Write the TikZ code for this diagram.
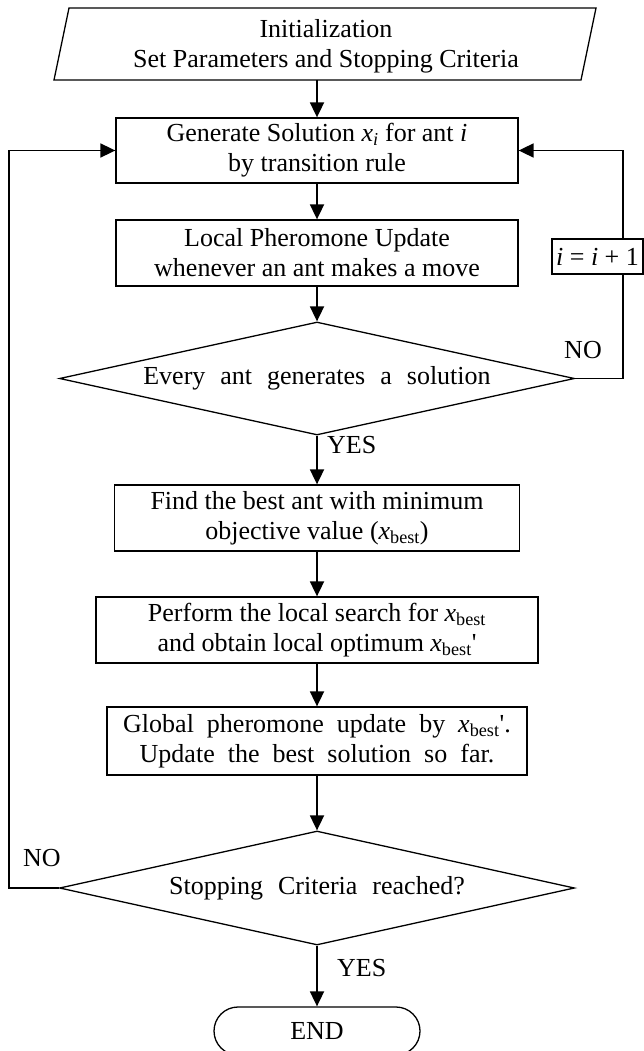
\documentclass[tikz,border=0pt]{standalone}
\usepackage{fontspec}
\setmainfont{Liberation Serif}
\usetikzlibrary{arrows.meta,calc,shapes.geometric}
\newcommand\wsp{\hspace{15pt}}
\newcommand\wsq{\hspace{13pt}}
\newcommand\xbest{\textit{x}\textsubscript{best}}
\begin{document}
\begin{tikzpicture}[x=1pt,y=-1pt,
  every node/.style={font=\fontsize{26}{30}\selectfont, inner sep=0pt},
  proc/.style={draw, line width=1.3pt, align=center},
  dec/.style={draw, line width=1.3pt, shape=diamond, aspect=4.5, align=center},
  conn/.style={line width=1.8pt},
  arr/.style={conn, -{Triangle[length=15pt,width=14pt]}}
]
\useasboundingbox (0,0) rectangle (644,1051);

% initialization parallelogram
\coordinate (p1) at (69,8);
\coordinate (p2) at (596,8);
\coordinate (p3) at (581,80);
\coordinate (p4) at (54,80);
\draw[line width=1.3pt] (p1) -- (p2) -- (p3) -- (p4) -- cycle;
\coordinate (pb) at (317,80);
\node[align=center] (init) at (326,46) {Initialization\\Set Parameters and Stopping Criteria};

\node[proc, minimum width=402pt, minimum height=65pt] (b1) at (317,150.5)
  {Generate Solution \textit{x}\textsubscript{\textit{i}} for ant \textit{i}\\by transition rule};
\node[proc, minimum width=402pt, minimum height=66pt] (b2) at (317,253)
  {Local Pheromone Update\\whenever an ant makes a move};
\node[dec, minimum width=515pt, minimum height=113pt] (d1) at (317,378.5)
  {\raisebox{5pt}{Every\wsp ant\wsp generates\wsp a\wsp solution}};
\node[proc, minimum width=405pt, minimum height=66pt] (b3) at (317,518)
  {Find the best ant with minimum\\objective value (\xbest)};
\node[proc, minimum width=442pt, minimum height=66pt] (b4) at (317,630)
  {Perform the local search for \xbest\\and obtain local optimum \xbest\textquotesingle};
\node[proc, minimum width=420pt, minimum height=68pt] (b5) at (317,741)
  {Global\wsq pheromone\wsq update\wsq by\wsq \xbest\textquotesingle.\\Update\wsq the\wsq best\wsq solution\wsq so\wsq far.};
\node[dec, minimum width=515pt, minimum height=114pt] (d2) at (317,888)
  {\raisebox{6pt}{Stopping\wsp Criteria\wsp reached?}};
\node[draw, line width=1.3pt, rounded corners=24pt, minimum width=206pt, minimum height=48pt] (end) at (317,1031) {END};
\node[proc, minimum width=91pt, minimum height=35pt] (inc) at (597.5,256.5)
  {\textit{i} = \textit{i} + 1};

% labels
\node[anchor=west] (yes1) at (327,445) {YES};
\node[anchor=west] (yes2) at (337,968) {YES};
\node (no1) at (583,350) {NO};
\node (no2) at (42,858) {NO};

% main flow
\draw[arr] (pb) -- (b1.north);
\draw[arr] (b1.south) -- (b2.north);
\draw[arr] (b2.south) -- (d1.north);
\draw[arr] (d1.south) -- (b3.north);
\draw[arr] (b3.south) -- (b4.north);
\draw[arr] (b4.south) -- (b5.north);
\draw[arr] (b5.south) -- (d2.north);
\draw[arr] (d2.south) -- (end.north);

% loops
\coordinate (lx) at (9,888);
\coordinate (rx) at (623,0);
\draw[arr] (d2.west) -- (lx) |- (b1.west);
\draw[conn] (d1.east) -| (rx |- inc.south);
\draw[arr] (rx |- inc.north) |- (b1.east);
\end{tikzpicture}
\end{document}
